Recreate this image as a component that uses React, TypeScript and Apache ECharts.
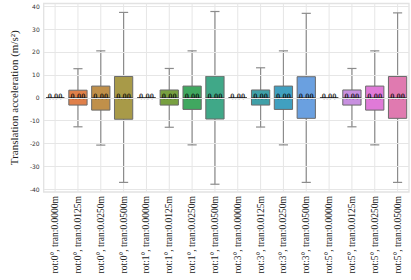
import React, { useEffect, useRef } from 'react';
import * as echarts from 'echarts';

const categories = [
  'rot:0°, tran:0.0000m', 'rot:0°, tran:0.0125m', 'rot:0°, tran:0.0250m', 'rot:0°, tran:0.0500m',
  'rot:1°, tran:0.0000m', 'rot:1°, tran:0.0125m', 'rot:1°, tran:0.0250m', 'rot:1°, tran:0.0500m',
  'rot:3°, tran:0.0000m', 'rot:3°, tran:0.0125m', 'rot:3°, tran:0.0250m', 'rot:3°, tran:0.0500m',
  'rot:5°, tran:0.0000m', 'rot:5°, tran:0.0125m', 'rot:5°, tran:0.0250m', 'rot:5°, tran:0.0500m',
];
const whiskerLow = [0, -12.7, -20.7, -37.0, 0, -12.9, -20.6, -37.8, 0, -12.8, -20.6, -37.0, 0, -12.7, -20.6, -37.0];
const q1 = [0, -3.2, -5.4, -9.4, 0, -3.2, -5.1, -9.3, 0, -3.2, -5.1, -9.0, 0, -3.2, -5.4, -9.0];
const median = [0, 0, 0, 0, 0, 0, 0, 0, 0, 0, 0, 0, 0, 0, 0, 0];
const q3 = [0, 3.3, 5.1, 9.3, 0, 3.4, 5.1, 9.4, 0, 3.4, 5.1, 9.2, 0, 3.4, 5.1, 9.3];
const whiskerHigh = [0, 12.7, 20.5, 37.3, 0, 12.8, 20.5, 37.7, 0, 13.1, 20.5, 36.9, 0, 12.8, 20.5, 37.1];
const boxColors = [
  '#e07a86', '#e0804a', '#c0904a', '#a89a48',
  '#8f9e42', '#78a040', '#40a860', '#40a888',
  '#40a698', '#40a0a8', '#40a0c0', '#6aa0e0',
  '#a090e0', '#c890e0', '#e07ad8', '#e07ab0',
];
const yTicks = [-40, -30, -20, -10, 0, 10, 20, 30, 40];
const yTitle = 'Translation acceleration (m/s²)';

export default function App() {
  const ref = useRef<HTMLDivElement>(null);
  useEffect(() => {
    document.body.style.margin = '0';
    const chart = echarts.init(ref.current!, undefined, { renderer: 'svg' });
    const data = categories.map((c, i) => [i, whiskerLow[i], q1[i], median[i], q3[i], whiskerHigh[i]]);
    const whisk = '#8c8c8c';
    const option: any = {
      animation: false,
      backgroundColor: '#ffffff',
      grid: {
        left: 26, right: 2, top: 3.5, bottom: 88,
        show: true, borderColor: '#e2e2e2', borderWidth: 1.3, backgroundColor: '#ffffff',
      },
      xAxis: {
        type: 'category',
        data: categories,
        boundaryGap: true,
        axisLine: { show: false },
        axisTick: { show: false },
        splitLine: { show: false },
        axisLabel: {
          rotate: 90, interval: 0, margin: 4,
          fontFamily: 'Liberation Serif', fontSize: 9.5, color: '#222',
        },
      },
      yAxis: {
        type: 'value',
        min: -41.2,
        max: 41.2,
        name: yTitle,
        nameLocation: 'middle',
        nameGap: 15,
        nameTextStyle: { fontFamily: 'Liberation Serif', fontSize: 11, color: '#222' },
        axisLine: { show: false },
        axisTick: { show: false, customValues: yTicks },
        splitLine: { show: false },
        axisLabel: {
          customValues: yTicks,
          fontFamily: 'DejaVu Sans', fontSize: 6, color: '#333', margin: 4,
        },
      },
      series: [
        {
          type: 'line',
          data: [],
          z: 1,
          silent: true,
          markLine: {
            silent: true,
            symbol: 'none',
            animation: false,
            label: { show: false },
            lineStyle: { color: '#e6e6e6', type: 'solid', width: 1 },
            data: yTicks.map((v) => ({ yAxis: v })),
          },
        },
        {
          type: 'custom',
          z: 2,
          data,
          encode: { x: 0, y: [1, 2, 3, 4, 5] },
          renderItem: (params: any, api: any) => {
            const i = api.value(0);
            const cx = api.coord([i, 0])[0];
            const band = api.size([1, 0])[0];
            const bw = band * 0.8;
            const capW = bw / 2;
            const yLo = api.coord([i, api.value(1)])[1];
            const yQ1 = api.coord([i, api.value(2)])[1];
            const yMed = api.coord([i, api.value(3)])[1];
            const yQ3 = api.coord([i, api.value(4)])[1];
            const yHi = api.coord([i, api.value(5)])[1];
            const cs = params.coordSys;
            const children: any[] = [
              { type: 'line', shape: { x1: cx, y1: cs.y, x2: cx, y2: cs.y + cs.height }, style: { stroke: '#e6e6e6', lineWidth: 1 } },
            ];
            if (yLo !== yQ1 || yHi !== yQ3) {
              children.push(
                { type: 'line', shape: { x1: cx, y1: yQ1, x2: cx, y2: yLo }, style: { stroke: whisk, lineWidth: 1.2 } },
                { type: 'line', shape: { x1: cx, y1: yQ3, x2: cx, y2: yHi }, style: { stroke: whisk, lineWidth: 1.2 } },
                { type: 'line', shape: { x1: cx - capW / 2, y1: yLo, x2: cx + capW / 2, y2: yLo }, style: { stroke: whisk, lineWidth: 1.2 } },
                { type: 'line', shape: { x1: cx - capW / 2, y1: yHi, x2: cx + capW / 2, y2: yHi }, style: { stroke: whisk, lineWidth: 1.2 } },
              );
            }
            children.push(
              { type: 'rect', shape: { x: cx - bw / 2, y: yQ3, width: bw, height: yQ1 - yQ3 }, style: { fill: boxColors[i], stroke: '#6a6a6a', lineWidth: 1 } },
              { type: 'line', shape: { x1: cx - bw / 2, y1: yMed, x2: cx + bw / 2, y2: yMed }, style: { stroke: '#4a4a4a', lineWidth: 1.2 } },
            );
            return { type: 'group', children };
          },
        },
        {
          type: 'scatter',
          z: 3,
          silent: true,
          symbol: 'circle',
          symbolSize: 0.01,
          itemStyle: { color: 'rgba(0,0,0,0)' },
          data: median.map((m, i) => [i, m]),
          label: {
            show: true,
            position: 'top',
            distance: 0,
            offset: [0, 3],
            rotate: 0.4,
            formatter: (p: any) => Number(p.value[1]).toFixed(2),
            color: '#000000',
            textBorderWidth: 0,
            fontFamily: 'Liberation Serif',
            fontWeight: 'bold',
            fontSize: 8.5,
          },
        },
      ],
    };
    chart.setOption(option);
    return () => chart.dispose();
  }, []);
  return <div ref={ref} style={{ width: 411, height: 280 }} />;
}
